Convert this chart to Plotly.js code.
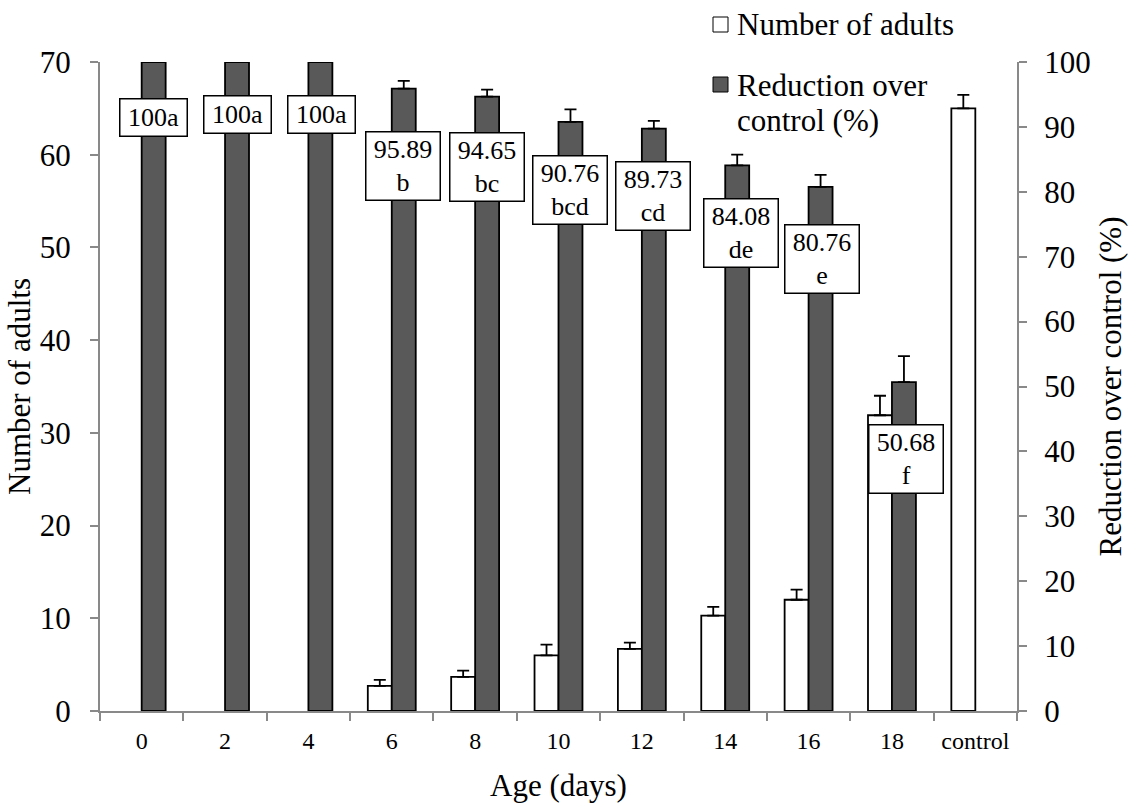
<!DOCTYPE html>
<html><head><meta charset="utf-8">
<script src="https://cdn.plot.ly/plotly-3.0.1.min.js"></script>
<style>html,body{margin:0;padding:0;background:#fff}#chart{width:1134px;height:805px}</style>
</head><body><div id="chart"></div>
<script>
// ---- data ----
const categories = ['0','2','4','6','8','10','12','14','16','18','control'];
const adults = [0, 0, 0, 2.7, 3.67, 6.0, 6.69, 10.28, 12.0, 31.9, 65.0];
const adultsErr = [NaN, NaN, NaN, 0.65, 0.68, 1.15, 0.68, 0.94, 1.1, 2.1, 1.45];
const reduction = [100, 100, 100, 95.89, 94.65, 90.76, 89.73, 84.08, 80.76, 50.68, null];
const reductionErr = [NaN, NaN, NaN, 1.2, 1.1, 1.95, 1.2, 1.65, 1.85, 4.0, NaN];
const reductionLabels = ['100a','100a','100a','95.89<br>b','94.65<br>bc','90.76<br>bcd','89.73<br>cd','84.08<br>de','80.76<br>e','50.68<br>f', null];

// ---- layout helpers (label placement, not data) ----
const labelY = [91.45, 91.9, 91.9, 84.0, 83.8, 80.3, 79.3, 73.7, 69.6, 38.9, null];
const labelDx = [12, 12, 13.5, 11.5, 11.7, 11.3, 11.5, 15.5, 13.5, 14, 0];

const FONT = 'Liberation Serif';
const GRAY = '#898989';
const DARK = '#595959';

const L = 100, R = 117, T = 62, B = 94, W = 1134, H = 805;
const PW = W - L - R, PH = H - T - B;
const px = x => (x - L) / PW;
const py = y => (H - B - y) / PH;

// plus-only error bars: minus side 0 where an error exists, NaN (no bar) elsewhere
const minusOf = a => a.map(v => isNaN(v) ? NaN : 0);

const traces = [
  {
    type: 'bar', name: 'Number of adults', x: categories, y: adults,
    yaxis: 'y', offsetgroup: 'a',
    marker: {color: '#ffffff', line: {color: '#000000', width: adults.map(v => v > 0 ? 1.8 : 0)}},
    error_y: {type: 'data', symmetric: false, array: adultsErr, arrayminus: minusOf(adultsErr),
              color: '#000000', thickness: 1.8, width: 6},
    showlegend: false, hoverinfo: 'x+y'
  },
  {
    type: 'bar', name: 'Reduction over control (%)', x: categories, y: reduction,
    yaxis: 'y2', offsetgroup: 'b',
    marker: {color: DARK, line: {color: '#000000', width: 1.8}},
    error_y: {type: 'data', symmetric: false, array: reductionErr, arrayminus: minusOf(reductionErr),
              color: '#000000', thickness: 1.8, width: 6},
    showlegend: false, hoverinfo: 'x+y'
  }
];

const annotations = [];
categories.forEach((c, i) => {
  if (!reductionLabels[i]) return;
  const two = reductionLabels[i].indexOf('<br>') >= 0;
  annotations.push({
    xref: 'x', yref: 'y2', x: i, y: labelY[i], xshift: labelDx[i],
    text: reductionLabels[i], showarrow: false,
    bgcolor: '#ffffff', bordercolor: '#000000', borderwidth: 1.5, borderpad: 0,
    width: two ? 73 : 66, height: two ? 67 : 36,
    font: {family: FONT, size: 26, color: '#000000'}
  });
});
// legend texts
const legendTexts = [
  {t: 'Number of adults', y: 25},
  {t: 'Reduction over', y: 86},
  {t: 'control (%)', y: 120}
];
legendTexts.forEach(o => annotations.push({
  xref: 'paper', yref: 'paper', x: px(735), y: py(o.y), xanchor: 'left', yanchor: 'middle',
  text: o.t, showarrow: false, font: {family: FONT, size: 31, color: '#000000'}
}));

const shapes = [
  {type: 'rect', xref: 'paper', yref: 'paper', x0: px(713), x1: px(728), y0: py(32), y1: py(17),
   fillcolor: '#ffffff', line: {color: '#000000', width: 1}},
  {type: 'rect', xref: 'paper', yref: 'paper', x0: px(713), x1: px(728), y0: py(92), y1: py(77),
   fillcolor: DARK, line: {color: '#000000', width: 1}}
];

const layout = {
  width: W, height: H,
  margin: {l: L, r: R, t: T, b: B, pad: 0},
  paper_bgcolor: '#ffffff', plot_bgcolor: '#ffffff',
  font: {family: FONT, color: '#000000'},
  barmode: 'group', bargap: 0.425, bargroupgap: 0,
  showlegend: false,
  xaxis: {
    type: 'category', automargin: false, range: [-0.5, 10.5], tickangle: 0,
    showline: true, linecolor: GRAY, linewidth: 2,
    ticks: 'outside', tickson: 'boundaries', ticklen: 8, tickwidth: 2, tickcolor: GRAY,
    tickfont: {family: FONT, size: 24, color: '#000000'},
    ticklabelstandoff: 7,
    showgrid: false, zeroline: false,
    title: {text: 'Age (days)', font: {family: FONT, size: 31, color: '#000000'}, standoff: 22}
  },
  yaxis: {
    range: [0, 70], dtick: 10, automargin: false,
    showline: true, linecolor: GRAY, linewidth: 2,
    ticks: 'outside', ticklen: 8, tickwidth: 2, tickcolor: GRAY,
    tickfont: {family: FONT, size: 31, color: '#000000'},
    ticklabelstandoff: 13,
    showgrid: false, zeroline: false,
    title: {text: 'Number of adults', font: {family: FONT, size: 31, color: '#000000'}, standoff: 0}
  },
  yaxis2: {
    range: [0, 100], dtick: 10, overlaying: 'y', side: 'right', automargin: false,
    showline: true, linecolor: GRAY, linewidth: 2,
    ticks: 'outside', ticklen: 8, tickwidth: 2, tickcolor: GRAY,
    tickfont: {family: FONT, size: 31, color: '#000000'},
    ticklabelstandoff: 11,
    showgrid: false, zeroline: false,
    title: {text: 'Reduction over control (%)', font: {family: FONT, size: 31, color: '#000000'}, standoff: 10}
  },
  annotations: annotations,
  shapes: shapes
};

Plotly.newPlot('chart', traces, layout, {displayModeBar: false, staticPlot: true});
</script>
</body></html>
